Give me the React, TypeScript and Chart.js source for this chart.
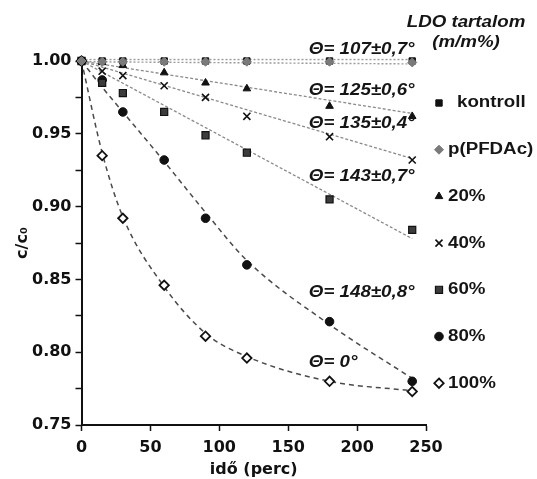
import React, { useEffect, useRef } from 'react';
import { Chart, registerables } from 'chart.js';

Chart.register(...registerables);

// ---- data ----
const times = [0, 15, 30, 60, 90, 120, 180, 240];
const kontroll = [1.0, 1.0, 1.0, 1.0, 1.0, 1.0, 1.0, 1.0];
const pfdac = [1.0, 0.9995, 0.9995, 0.9995, 0.9995, 0.9995, 0.9995, 0.999];
const ldo20 = [1.0, 0.999, 0.997, 0.992, 0.985, 0.981, 0.969, 0.962];
const ldo40 = [1.0, 0.993, 0.990, 0.983, 0.975, 0.962, 0.948, 0.932];
const ldo60 = [1.0, 0.985, 0.978, 0.965, 0.949, 0.937, 0.905, 0.884];
const ldo80 = [1.0, 0.987, 0.965, 0.932, 0.892, 0.860, 0.821, 0.780];
const ldo100 = [1.0, 0.935, 0.892, 0.846, 0.811, 0.796, 0.780, 0.773];

// trend lines
const linTimes = [0, 240];
const fitKontroll = [1.001, 1.001];
const fitPfdac = [0.9995, 0.998];
const fit20 = [1.0, 0.964];
const fit40 = [1.0, 0.933];
const fit60 = [1.0, 0.878];
const curveTimes = [0, 15, 30, 60, 90, 120, 180, 240];
const fit80 = [1.0, 0.982, 0.965, 0.931, 0.896, 0.863, 0.819, 0.782];
const fit100 = [1.0, 0.937, 0.893, 0.845, 0.813, 0.797, 0.780, 0.7735];

const seriesLabels = ['kontroll', 'p(PFDAc)', '20%', '40%', '60%', '80%', '100%'];
const legendTitle = ['LDO tartalom', '(m/m%)'];
const thetaLabels = ['Θ= 107±0,7°', 'Θ= 125±0,6°', 'Θ= 135±0,4°', 'Θ= 143±0,7°', 'Θ= 148±0,8°', 'Θ= 0°'];
const thetaX = 165;
const thetaY = [1.008, 0.98, 0.957, 0.9205, 0.841, 0.7928];
const xTicks = { min: 0, max: 250, step: 50 };
const yTicks = { min: 0.75, max: 1.0, step: 0.025 };

const xy = (xs: number[], ys: number[]) => xs.map((x, i) => ({ x, y: ys[i] }));

const markerStyles = [
  { pointStyle: 'rect', radius: 4.5, bg: '#111', border: '#111', bw: 1 },
  { pointStyle: 'rectRot', radius: 4.5, bg: '#7a7a7a', border: '#7a7a7a', bw: 1 },
  { pointStyle: 'triangle', radius: 4.4, bg: '#111', border: '#111', bw: 1 },
  { pointStyle: 'crossRot', radius: 5, bg: '#111', border: '#111', bw: 1.6 },
  { pointStyle: 'rect', radius: 5, bg: '#3c3c3c', border: '#111', bw: 1.2 },
  { pointStyle: 'circle', radius: 4.3, bg: '#111', border: '#111', bw: 1 },
  { pointStyle: 'rectRot', radius: 4.7, bg: '#fff', border: '#111', bw: 1.8 },
];
const seriesValues = [kontroll, pfdac, ldo20, ldo40, ldo60, ldo80, ldo100];
const markerOrder = [1, 0, 2, 3, 4, 5, 6];

function drawMarker(ctx: CanvasRenderingContext2D, st: any, cx: number, cy: number) {
  const r = st.radius;
  ctx.beginPath();
  if (st.pointStyle === 'rect') {
    const s = r * Math.SQRT1_2;
    ctx.rect(cx - s, cy - s, 2 * s, 2 * s);
  } else if (st.pointStyle === 'rectRot') {
    ctx.moveTo(cx, cy - r); ctx.lineTo(cx + r, cy); ctx.lineTo(cx, cy + r); ctx.lineTo(cx - r, cy); ctx.closePath();
  } else if (st.pointStyle === 'triangle') {
    const h = r * 1.5, w = r * Math.sqrt(3);
    ctx.moveTo(cx, cy - r); ctx.lineTo(cx + w / 2, cy + h - r); ctx.lineTo(cx - w / 2, cy + h - r); ctx.closePath();
  } else if (st.pointStyle === 'circle') {
    ctx.arc(cx, cy, r, 0, Math.PI * 2);
  } else if (st.pointStyle === 'crossRot') {
    const d = r * Math.SQRT1_2;
    ctx.moveTo(cx - d, cy - d); ctx.lineTo(cx + d, cy + d);
    ctx.moveTo(cx + d, cy - d); ctx.lineTo(cx - d, cy + d);
  }
  if (st.pointStyle !== 'crossRot') { ctx.fillStyle = st.bg; ctx.fill(); }
  ctx.lineWidth = st.bw; ctx.strokeStyle = st.border; ctx.stroke();
}

const SX = 1.17; // horizontal stretch of the reference lettering
function stretchedText(ctx: CanvasRenderingContext2D, text: string, x: number, y: number, align: 'left' | 'center') {
  const w = ctx.measureText(text).width * SX;
  const left = align === 'center' ? x - w / 2 : x;
  ctx.save();
  ctx.translate(left, y);
  ctx.scale(SX, 1);
  ctx.textAlign = 'left';
  ctx.fillText(text, 0, 0);
  ctx.restore();
}

const overlayPlugin = {
  id: 'overlay',
  afterDraw(chart: any) {
    const { ctx } = chart;
    const xs = chart.scales.x, ys = chart.scales.y;
    ctx.save();
    ctx.textBaseline = 'middle';
    ctx.fillStyle = '#151515';
    // Θ annotations
    ctx.font = 'italic bold 16px "Liberation Sans"';
    thetaLabels.forEach((t, i) => {
      ctx.fillStyle = '#151515';
      stretchedText(ctx, t, xs.getPixelForValue(thetaX), ys.getPixelForValue(thetaY[i]), 'left');
    });
    // legend title
    const lx = chart.chartArea.right + 40;
    ctx.fillStyle = '#151515';
    stretchedText(ctx, legendTitle[0], lx, 23, 'center');
    stretchedText(ctx, legendTitle[1], lx, 43, 'center');
    // legend entries
    ctx.font = 'bold 16px "Liberation Sans"';
    const mx = chart.chartArea.right + 13;
    seriesLabels.forEach((lab, i) => {
      const cy = 103 + i * 46.7;
      drawMarker(ctx, markerStyles[i], mx, cy);
      ctx.fillStyle = '#151515';
      stretchedText(ctx, lab, mx + (i === 0 ? 18 : 9), cy, 'left');
    });
    ctx.restore();
  },
};

const axisFont = { family: '"DejaVu Sans"', size: 16, weight: 'bold' as const };

export default function App() {
  const ref = useRef<HTMLCanvasElement | null>(null);
  useEffect(() => {
    if (!ref.current) return;
    const markerSets = seriesLabels.map((label, i) => ({
      label,
      data: xy(times, seriesValues[i]),
      showLine: false,
      pointStyle: markerStyles[i].pointStyle,
      pointRadius: markerStyles[i].radius,
      pointBackgroundColor: markerStyles[i].bg,
      pointBorderColor: markerStyles[i].border,
      pointBorderWidth: markerStyles[i].bw,
      backgroundColor: markerStyles[i].bg,
      borderColor: markerStyles[i].border,
      order: markerOrder[i],
      clip: false as any,
    }));
    const lineSet = (xs: number[], ys: number[], color: string, dash: number[], width: number, curve = false) => ({
      label: '',
      data: xy(xs, ys),
      showLine: true,
      pointRadius: 0,
      borderColor: color,
      borderDash: dash,
      borderWidth: width,
      cubicInterpolationMode: curve ? 'monotone' : 'default',
      order: 10,
      clip: false as any,
    });
    const lines = [
      lineSet(linTimes, fitKontroll, '#9a9a9a', [2, 2], 1.4),
      lineSet(linTimes, fitPfdac, '#9a9a9a', [2, 2], 1.4),
      lineSet(linTimes, fit20, '#8a8a8a', [3, 2], 1.3),
      lineSet(linTimes, fit40, '#8a8a8a', [3, 2], 1.3),
      lineSet(linTimes, fit60, '#8a8a8a', [3, 2], 1.3),
      lineSet(curveTimes, fit80, '#4a4a4a', [5, 4], 1.5, true),
      lineSet(curveTimes, fit100, '#4a4a4a', [5, 4], 1.5, true),
    ];
    const chart = new Chart(ref.current, {
      type: 'scatter',
      data: { datasets: [...markerSets, ...lines] as any },
      options: {
        responsive: false,
        animation: false,
        layout: { padding: { top: 61, right: 111, left: 0, bottom: 0 } },
        plugins: { legend: { display: false }, tooltip: { enabled: false } },
        scales: {
          x: {
            type: 'linear',
            min: xTicks.min,
            max: xTicks.max,
            ticks: { stepSize: xTicks.step, font: axisFont, color: '#111', padding: 7 },
            grid: { drawOnChartArea: false, drawTicks: true, tickLength: 6, tickColor: '#111', tickWidth: 1.5 },
            border: { color: '#111', width: 2 },
            title: { display: true, text: 'idő (perc)', font: axisFont, color: '#111', padding: { top: 0, bottom: 0 } },
            afterFit: (s: any) => { s.height = 54; },
          },
          y: {
            type: 'linear',
            min: yTicks.min,
            max: yTicks.max,
            ticks: {
              stepSize: yTicks.step,
              font: axisFont,
              color: '#111',
              padding: 4,
              autoSkip: false,
              callback: (v: any) => (Math.round(Number(v) * 1000) % 50 === 0 ? Number(v).toFixed(2) : ''),
            },
            grid: { drawOnChartArea: false, drawTicks: true, tickLength: 6, tickColor: '#111', tickWidth: 1.5 },
            border: { color: '#111', width: 2 },
            title: { display: true, text: 'c/c₀', font: axisFont, color: '#111', padding: { top: 13, bottom: 0 } },
            afterFit: (s: any) => { s.width = 81.5; },
          },
        },
      },
      plugins: [overlayPlugin],
    });
    return () => chart.destroy();
  }, []);
  return (
    <div style={{ position: 'absolute', left: 0, top: 0, width: 537, height: 479, background: '#fff' }}>
      <canvas ref={ref} width={537} height={479} style={{ display: 'block' }} />
    </div>
  );
}
